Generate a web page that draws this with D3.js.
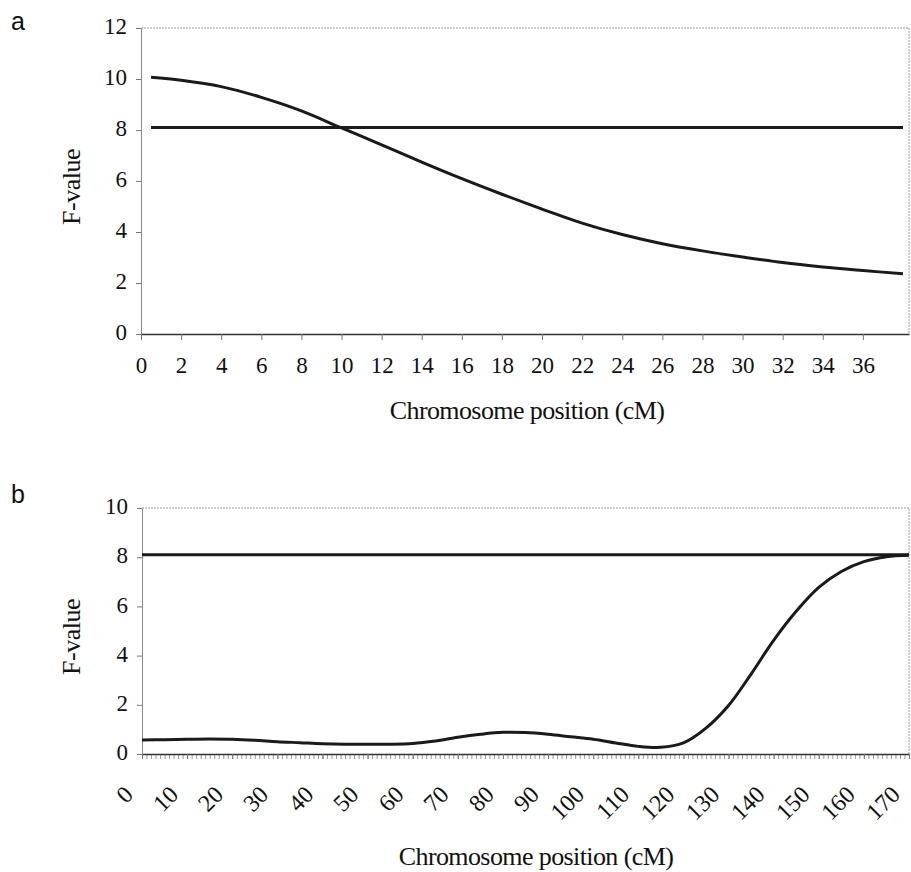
<!DOCTYPE html>
<html>
<head>
<meta charset="utf-8">
<script src="https://cdn.jsdelivr.net/npm/d3@7"></script>
<style>
  body { margin: 0; background: #fff; }
  svg text { fill: #111; }
</style>
</head>
<body>
<svg id="fig" width="911" height="872"></svg>
<script>
// panel a: F-value along the chromosome (0-38 cM)
const posA = [0.5, 2, 4, 6, 8, 10, 12, 14, 16, 18, 20, 22, 24, 26, 28, 30, 32, 34, 36, 38];
const fA = [10.07, 9.95, 9.7, 9.28, 8.75, 8.08, 7.42, 6.74, 6.09, 5.48, 4.9, 4.35, 3.9, 3.54, 3.26, 3.02, 2.8, 2.63, 2.49, 2.36];
const thresholdA = 8.1;
const yTicksA = [0, 2, 4, 6, 8, 10, 12];
const xTicksA = [0, 2, 4, 6, 8, 10, 12, 14, 16, 18, 20, 22, 24, 26, 28, 30, 32, 34, 36];

// panel b: F-value along the chromosome (0-170 cM)
const posB = [0, 5, 10, 15, 20, 25, 30, 35, 40, 45, 50, 55, 60, 65, 70, 75, 80, 85, 90, 95, 100, 105, 110, 115, 120, 125, 130, 135, 140, 145, 150, 155, 160, 165, 170];
const fB = [0.57, 0.58, 0.6, 0.61, 0.6, 0.56, 0.5, 0.46, 0.42, 0.4, 0.4, 0.4, 0.43, 0.53, 0.68, 0.8, 0.88, 0.87, 0.8, 0.7, 0.6, 0.45, 0.31, 0.27, 0.45, 1.05, 1.97, 3.25, 4.62, 5.8, 6.77, 7.42, 7.82, 8.02, 8.08];
const thresholdB = 8.1;
const yTicksB = [0, 2, 4, 6, 8, 10];
const xTicksB = [0, 10, 20, 30, 40, 50, 60, 70, 80, 90, 100, 110, 120, 130, 140, 150, 160, 170];

const serif = "'Liberation Serif', 'Times New Roman', serif";
const sans = "'Liberation Sans', Arial, sans-serif";
const svg = d3.select("#fig");

function drawPanel(cfg) {
    const x = d3.scaleLinear().domain(cfg.xDomain).range([cfg.left, cfg.right]);
    const y = d3.scaleLinear().domain(cfg.yDomain).range([cfg.bottom, cfg.top]);
    const g = svg.append("g");

    // dotted plot-area border (top and right)
    g.append("path")
        .attr("d", `M${cfg.left},${cfg.top}H${cfg.right}V${cfg.bottom}`)
        .attr("fill", "none")
        .attr("stroke", "#9a9a9a")
        .attr("stroke-width", 1)
        .attr("stroke-dasharray", "2,1");

    // y axis
    const yAxisG = g.append("g")
        .attr("transform", `translate(${cfg.left},0)`)
        .call(d3.axisLeft(y).tickValues(cfg.yTicks).tickSize(5).tickSizeOuter(0).tickPadding(9))
        .attr("font-family", serif)
        .attr("font-size", 23);
    yAxisG.select(".domain").attr("stroke", "#8a8a8a");
    yAxisG.selectAll(".tick line").attr("stroke", "#777");
    yAxisG.selectAll(".tick text").attr("dy", "0.25em");

    // minor ticks (panel b only)
    if (cfg.minorTicks) {
        const minorG = g.append("g")
            .attr("transform", `translate(0,${cfg.bottom})`)
            .call(d3.axisBottom(x).tickValues(cfg.minorTicks).tickSize(5).tickSizeOuter(0).tickFormat(""));
        minorG.select(".domain").remove();
        minorG.selectAll(".tick line").attr("stroke", "#999");
    }

    // x axis
    const xAxisG = g.append("g")
        .attr("transform", `translate(0,${cfg.bottom})`)
        .call(d3.axisBottom(x).tickValues(cfg.xTicks).tickSize(cfg.rotate ? 5 : 6).tickSizeOuter(0).tickPadding(17))
        .attr("font-family", serif)
        .attr("font-size", 23);
    xAxisG.select(".domain").attr("stroke", "#333").attr("stroke-width", 1.5);
    xAxisG.selectAll(".tick line").attr("stroke", "#777");
    if (cfg.rotate) {
        xAxisG.selectAll(".tick text")
            .attr("x", 0).attr("y", 0).attr("dy", 0)
            .attr("font-size", 24)
            .attr("text-anchor", "end")
            .attr("transform", "translate(-8,42) rotate(-45)");
    }

    // threshold line
    g.append("line")
        .attr("x1", x(cfg.thrFrom)).attr("x2", x(cfg.thrTo))
        .attr("y1", y(cfg.threshold)).attr("y2", y(cfg.threshold))
        .attr("stroke", "#1a1a1a")
        .attr("stroke-width", 3);

    // F-value curve
    const line = d3.line()
        .x(d => x(d[0]))
        .y(d => y(d[1]))
        .curve(d3.curveCatmullRom.alpha(0.5));
    g.append("path")
        .datum(cfg.pos.map((p, i) => [p, cfg.vals[i]]))
        .attr("d", line)
        .attr("fill", "none")
        .attr("stroke", "#1a1a1a")
        .attr("stroke-width", 3);

    // axis titles
    g.append("text")
        .attr("transform", `translate(${cfg.yTitleX},${(cfg.top + cfg.bottom) / 2 + 6}) rotate(-90)`)
        .attr("text-anchor", "middle")
        .attr("font-family", serif)
        .attr("font-size", 26)
        .attr("letter-spacing", -0.5)
        .text("F-value");
    g.append("text")
        .attr("x", cfg.xTitleX).attr("y", cfg.xTitleY)
        .attr("text-anchor", "middle")
        .attr("font-family", serif)
        .attr("font-size", 26)
        .attr("letter-spacing", -0.6)
        .text("Chromosome position (cM)");

    // panel letter
    g.append("text")
        .attr("x", 11).attr("y", cfg.letterY)
        .attr("font-family", sans)
        .attr("font-size", 25)
        .text(cfg.letter);
}

drawPanel({
    letter: "a", letterY: 30,
    left: 141, right: 909, top: 28, bottom: 334,
    xDomain: [0, 38.3], yDomain: [0, 12],
    xTicks: xTicksA, yTicks: yTicksA,
    pos: posA, vals: fA,
    threshold: thresholdA, thrFrom: posA[0], thrTo: posA[posA.length - 1],
    yTitleX: 80, xTitleX: 527, xTitleY: 419
});

drawPanel({
    letter: "b", letterY: 503,
    left: 142, right: 909, top: 508, bottom: 754,
    xDomain: [0, 170], yDomain: [0, 10],
    xTicks: xTicksB, yTicks: yTicksB,
    minorTicks: d3.range(0, 171, 1),
    rotate: true,
    pos: posB, vals: fB,
    threshold: thresholdB, thrFrom: 0, thrTo: 170,
    yTitleX: 80, xTitleX: 536, xTitleY: 865
});
</script>
</body>
</html>
